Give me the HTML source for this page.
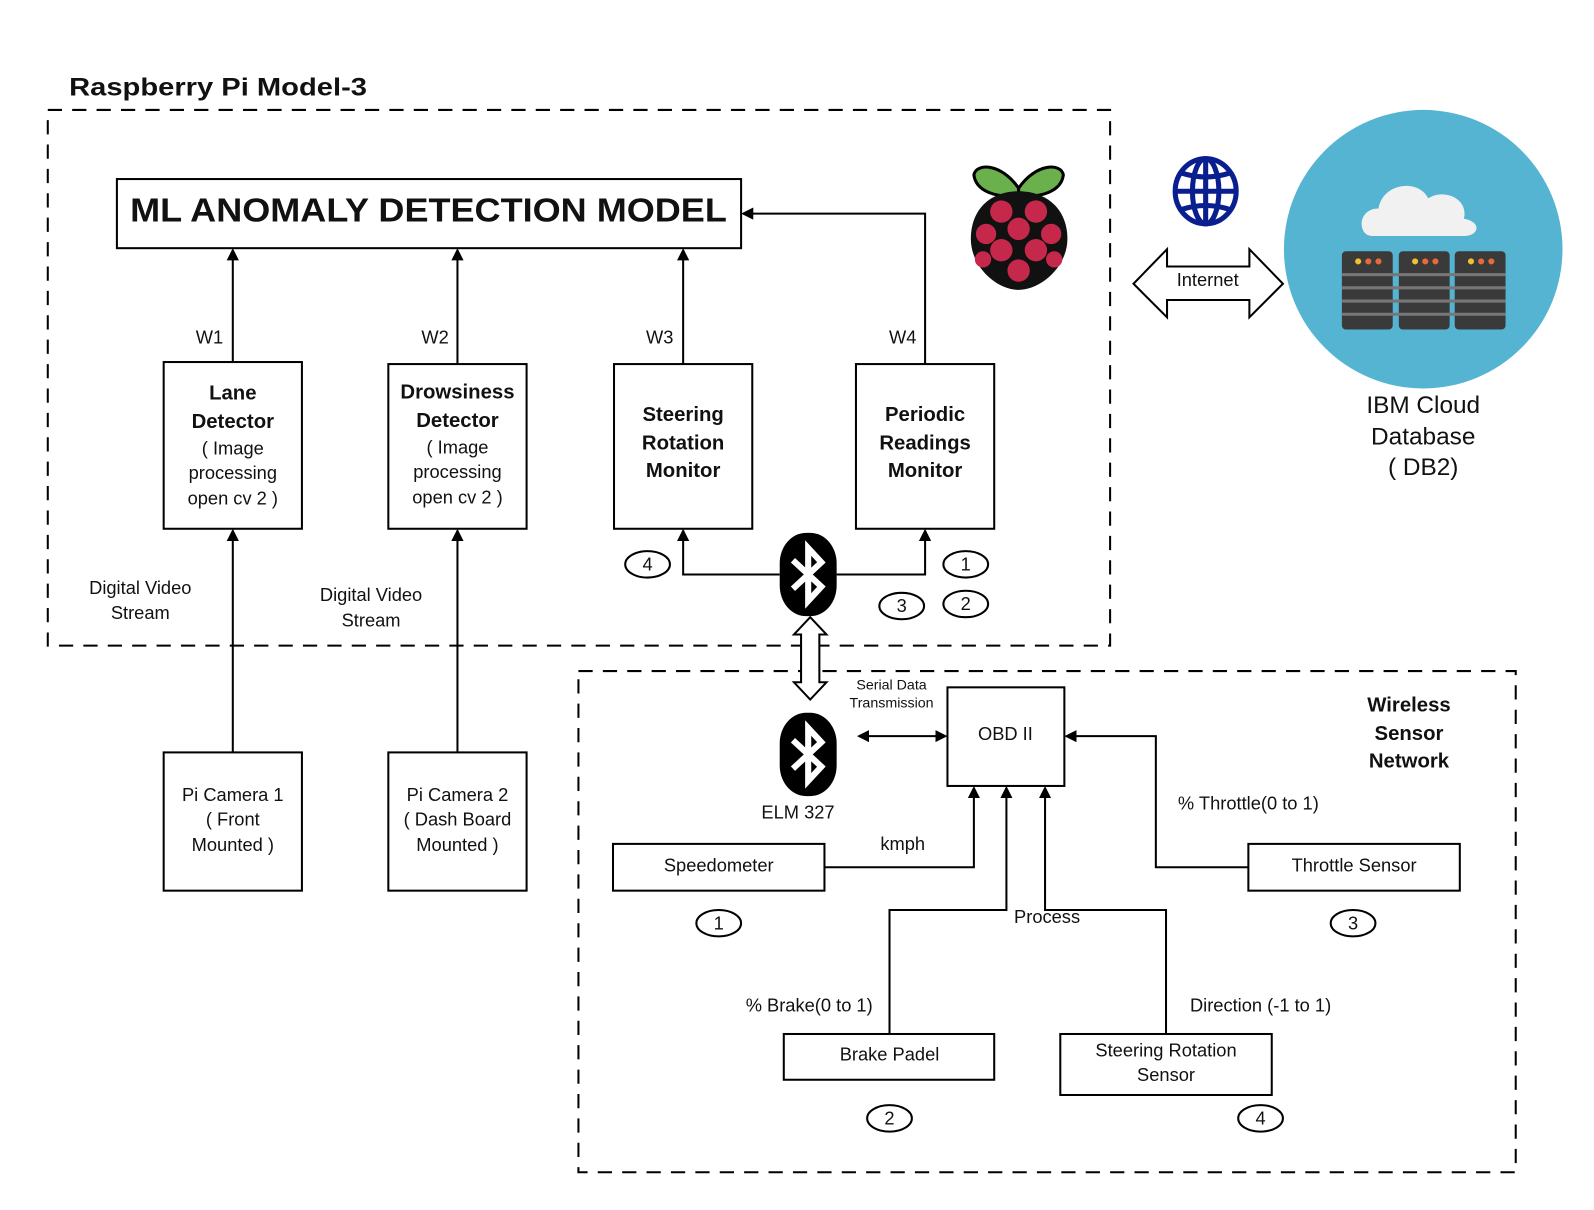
<!DOCTYPE html>
<html><head><meta charset="utf-8"><style>
html,body{margin:0;padding:0;background:#fff}
svg{display:block}
text{font-family:"Liberation Sans",sans-serif;fill:#111}
.b{font-weight:bold}
</style></head><body>
<svg width="1594" height="1210" viewBox="0 0 1568 1190" xmlns="http://www.w3.org/2000/svg">
<defs>
<marker id="a" markerWidth="12" markerHeight="12" refX="10" refY="6" orient="auto" markerUnits="userSpaceOnUse"><path d="M0,0 L12,6 L0,12 z" fill="#000"/></marker>
<marker id="as" markerWidth="12" markerHeight="12" refX="2" refY="6" orient="auto" markerUnits="userSpaceOnUse"><path d="M12,0 L0,6 L12,12 z" fill="#000"/></marker>
<g id="bt"><rect x="-28" y="-41" width="56" height="82" rx="26" ry="30" fill="#000"/>
<path d="M-15,-14 L13,12 L0,26 L0,-26 L13,-12 L-15,14" fill="none" stroke="#fff" stroke-width="6" stroke-linejoin="miter"/></g>
</defs>
<text x="68" y="94" class="b" font-size="25" textLength="293" lengthAdjust="spacingAndGlyphs">Raspberry Pi  Model-3</text>
<rect x="47" y="108" width="1045" height="527" fill="none" stroke="#000" stroke-width="2" stroke-dasharray="14,10"/>
<rect x="569" y="660" width="922" height="493" fill="none" stroke="#000" stroke-width="2" stroke-dasharray="14,10"/>
<g fill="none" stroke="#000" stroke-width="2">
<rect x="115" y="176" width="614" height="68"/>
<rect x="161" y="356" width="136" height="164"/>
<rect x="382" y="358" width="136" height="162"/>
<rect x="604" y="358" width="136" height="162"/>
<rect x="842" y="358" width="136" height="162"/>
<rect x="161" y="740" width="136" height="136"/>
<rect x="382" y="740" width="136" height="136"/>
<rect x="932" y="676" width="115" height="97"/>
<rect x="603" y="830" width="208" height="46"/>
<rect x="1228" y="830" width="208" height="46"/>
<rect x="771" y="1017" width="207" height="45"/>
<rect x="1043" y="1017" width="208" height="60"/>
<line x1="229" y1="356" x2="229" y2="246" marker-end="url(#a)"/>
<line x1="450" y1="358" x2="450" y2="246" marker-end="url(#a)"/>
<line x1="672" y1="358" x2="672" y2="246" marker-end="url(#a)"/>
<polyline points="910,358 910,210 731,210" marker-end="url(#a)"/>
<line x1="229" y1="740" x2="229" y2="522" marker-end="url(#a)"/>
<line x1="450" y1="740" x2="450" y2="522" marker-end="url(#a)"/>
<polyline points="767,565 672,565 672,522" marker-end="url(#a)"/>
<polyline points="823,565 910,565 910,522" marker-end="url(#a)"/>
<line x1="845" y1="724" x2="930" y2="724" marker-start="url(#as)" marker-end="url(#a)"/>
<polyline points="1228,853 1137,853 1137,724 1049,724" marker-end="url(#a)"/>
<polyline points="811,853 958,853 958,775" marker-end="url(#a)"/>
<polyline points="875,1017 875,895 990,895 990,775" marker-end="url(#a)"/>
<polyline points="1147,1017 1147,895 1028,895 1028,775" marker-end="url(#a)"/>
<ellipse cx="637" cy="555" rx="22" ry="13"/>
<ellipse cx="950" cy="555" rx="22" ry="13"/>
<ellipse cx="950" cy="594" rx="22" ry="13"/>
<ellipse cx="887" cy="596" rx="22" ry="13"/>
<ellipse cx="707" cy="908" rx="22" ry="13"/>
<ellipse cx="1331" cy="908" rx="22" ry="13"/>
<ellipse cx="875" cy="1100" rx="22" ry="13"/>
<ellipse cx="1240" cy="1100" rx="22" ry="13"/>
<path d="M797,607 L813,624 L806,624 L806,671 L813,671 L797,688 L781,671 L788,671 L788,624 L781,624 Z" fill="#fff"/>
<path d="M1115,279 L1148,245 L1148,262 L1229,262 L1229,245 L1262,279 L1229,312 L1229,295 L1148,295 L1148,312 Z" fill="#fff"/>
</g>
<use href="#bt" x="795" y="565"/>
<use href="#bt" x="795" y="742"/>
<text x="128" y="218" class="b" font-size="33" textLength="587" lengthAdjust="spacingAndGlyphs">ML ANOMALY DETECTION MODEL</text>
<g font-size="18" text-anchor="middle">
<text x="206" y="338">W1</text><text x="428" y="338">W2</text><text x="649" y="338">W3</text><text x="888" y="338">W4</text>
<text x="229" y="393" class="b" font-size="20">Lane</text><text x="229" y="421" class="b" font-size="20">Detector</text>
<text x="229" y="447">( Image</text><text x="229" y="471">processing</text><text x="229" y="496">open cv 2 )</text>
<text x="450" y="392" class="b" font-size="20">Drowsiness</text><text x="450" y="420" class="b" font-size="20">Detector</text>
<text x="450" y="446">( Image</text><text x="450" y="470">processing</text><text x="450" y="495">open cv 2 )</text>
<text x="672" y="414" class="b" font-size="20">Steering</text><text x="672" y="442" class="b" font-size="20">Rotation</text><text x="672" y="469" class="b" font-size="20">Monitor</text>
<text x="910" y="414" class="b" font-size="20">Periodic</text><text x="910" y="442" class="b" font-size="20">Readings</text><text x="910" y="469" class="b" font-size="20">Monitor</text>
<text x="138" y="584">Digital Video</text><text x="138" y="609">Stream</text>
<text x="365" y="591">Digital Video</text><text x="365" y="616">Stream</text>
<text x="229" y="788">Pi Camera 1</text><text x="229" y="812">( Front</text><text x="229" y="837">Mounted )</text>
<text x="450" y="788">Pi Camera 2</text><text x="450" y="812">( Dash Board</text><text x="450" y="837">Mounted )</text>
<text x="637" y="561">4</text><text x="950" y="561">1</text><text x="950" y="600">2</text><text x="887" y="602">3</text>
<text x="707" y="914">1</text><text x="1331" y="914">3</text><text x="875" y="1106">2</text><text x="1240" y="1106">4</text>
<text x="989" y="728">OBD II</text>
<text x="785" y="805">ELM 327</text>
<text x="707" y="857">Speedometer</text>
<text x="1332" y="857">Throttle Sensor</text>
<text x="875" y="1043">Brake Padel</text>
<text x="1147" y="1039">Steering Rotation</text><text x="1147" y="1063">Sensor</text>
<text x="888" y="836">kmph</text>
<text x="1228" y="796">% Throttle(0 to 1)</text>
<text x="1030" y="908">Process</text>
<text x="796" y="995">% Brake(0 to 1)</text>
<text x="1240" y="995">Direction (-1 to 1)</text>
<text x="1188" y="281">Internet</text>
<text x="1386" y="700" class="b" font-size="20">Wireless</text><text x="1386" y="728" class="b" font-size="20">Sensor</text><text x="1386" y="755" class="b" font-size="20">Network</text>
</g>
<g font-size="14" text-anchor="middle"><text x="877" y="678">Serial Data</text><text x="877" y="696">Transmission</text></g>
<g font-size="24" text-anchor="middle"><text x="1400" y="406">IBM Cloud</text><text x="1400" y="437">Database</text><text x="1400" y="467">( DB2)</text></g>
<g fill="none" stroke="#0a1f8f" stroke-width="5">
<ellipse cx="1186" cy="188" rx="30" ry="32"/><ellipse cx="1186" cy="188" rx="13" ry="32"/>
<line x1="1186" y1="156" x2="1186" y2="220"/><line x1="1156" y1="188" x2="1216" y2="188"/>
<path d="M1162,170 Q1186,178 1210,170 M1162,206 Q1186,198 1210,206"/>
</g>
<g>
<path d="M1002,185 C985,160 960,160 958,172 C960,188 980,195 1002,192 Z" fill="#6ab04c" stroke="#000" stroke-width="3"/>
<path d="M1002,185 C1019,160 1044,160 1046,172 C1044,188 1024,195 1002,192 Z" fill="#6ab04c" stroke="#000" stroke-width="3"/>
<path d="M1002,188 C975,188 955,205 955,235 C955,262 980,285 1002,285 C1024,285 1050,262 1050,235 C1050,205 1029,188 1002,188 Z" fill="#111"/>
<g fill="#c5284a"><circle cx="985" cy="208" r="11"/><circle cx="1019" cy="208" r="11"/><circle cx="1002" cy="225" r="11"/><circle cx="970" cy="230" r="10"/><circle cx="1034" cy="230" r="10"/><circle cx="985" cy="246" r="11"/><circle cx="1019" cy="246" r="11"/><circle cx="967" cy="255" r="8"/><circle cx="1037" cy="255" r="8"/><circle cx="1002" cy="266" r="11"/></g>
</g>
<circle cx="1400" cy="245" r="137" fill="#56b4d3"/>
<path d="M1350,232 C1335,232 1335,205 1356,205 C1360,180 1395,175 1405,195 C1420,185 1445,195 1440,215 C1458,218 1455,232 1440,232 Z" fill="#f1f1f1"/>
<g fill="#3a3a3a"><rect x="1320" y="247" width="50" height="77" rx="4"/><rect x="1376" y="247" width="50" height="77" rx="4"/><rect x="1431" y="247" width="50" height="77" rx="4"/></g>
<g stroke="#777" stroke-width="3"><line x1="1320" y1="270" x2="1481" y2="270"/><line x1="1320" y1="283" x2="1481" y2="283"/><line x1="1320" y1="296" x2="1481" y2="296"/><line x1="1320" y1="309" x2="1481" y2="309"/></g>
<g fill="#f0c030"><circle cx="1336" cy="257" r="3"/><circle cx="1392" cy="257" r="3"/><circle cx="1447" cy="257" r="3"/></g>
<g fill="#e86a3a"><circle cx="1346" cy="257" r="3"/><circle cx="1402" cy="257" r="3"/><circle cx="1457" cy="257" r="3"/><circle cx="1356" cy="257" r="3"/><circle cx="1412" cy="257" r="3"/><circle cx="1467" cy="257" r="3"/></g>
</svg>
</body></html>
